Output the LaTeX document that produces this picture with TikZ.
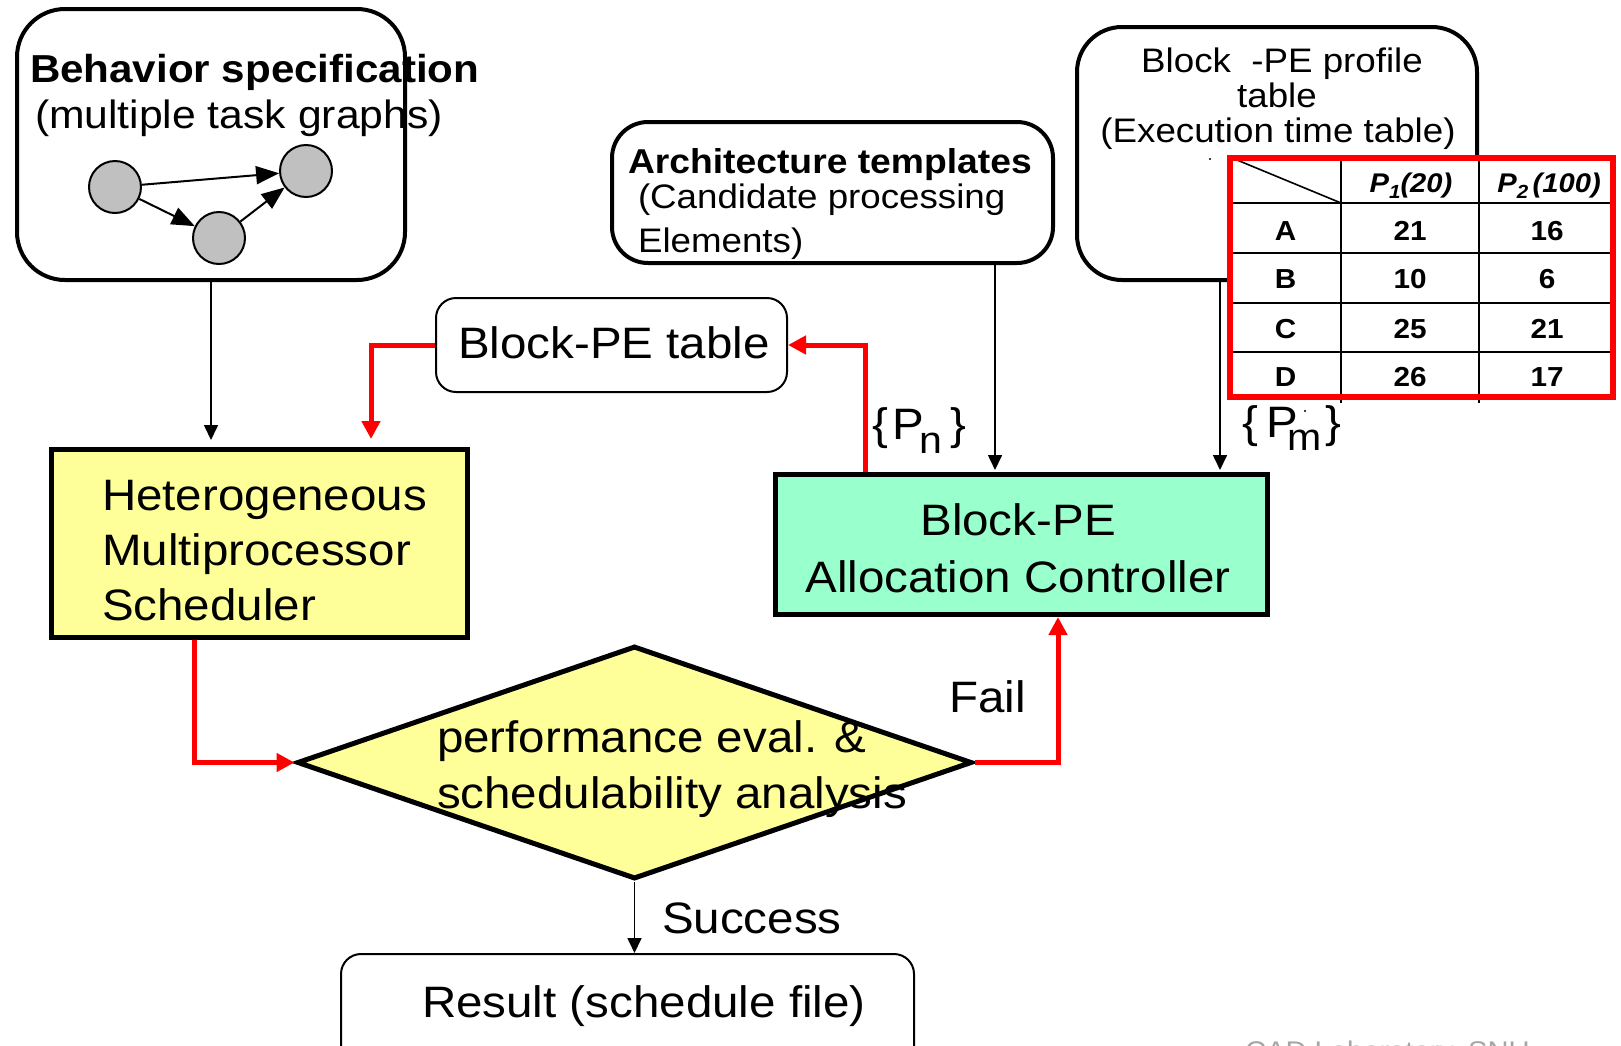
\documentclass[tikz,border=0pt]{standalone}
\usepackage{fontspec}
\setmainfont[FakeStretch=1.08]{Liberation Sans}
\usetikzlibrary{arrows.meta,shapes.geometric}

\definecolor{paleyellow}{HTML}{FFFF99}
\definecolor{mint}{HTML}{99FFCC}
\definecolor{nodegray}{HTML}{C0C0C0}
\definecolor{footgray}{HTML}{A6A6A6}
\newcommand{\fsz}[1]{\fontsize{#1pt}{#1pt}\selectfont}

\begin{document}
\begin{tikzpicture}[
  x=1pt, y=-1pt,
  font=\fsz{44},
  lbl/.style={inner sep=0pt, outer sep=0pt, anchor=base west},
  lblc/.style={inner sep=0pt, outer sep=0pt, anchor=base},
  roundbox/.style={draw, line width=4pt, inner sep=0pt},
  thinbox/.style={draw, line width=2pt, rounded corners=20pt, inner sep=0pt},
  procbox/.style={draw, line width=5pt, inner sep=0pt},
  gnode/.style={circle, draw, line width=2pt, fill=nodegray, minimum size=52pt, inner sep=0pt},
  garrow/.style={line width=2pt, -{Triangle[length=23pt,width=18pt]}},
  blackarrow/.style={line width=1.6pt, -{Triangle[length=15pt,width=14pt]}},
  redarrow/.style={draw=red, line width=5pt, -{Triangle[length=18pt,width=18pt]}}
]
% page frame
\clip (0,0) rectangle (1621,1045);
\fill[white] (0,0) rectangle (1621,1045);

% ---------- input boxes ----------
\node[roundbox, rounded corners=48pt, minimum width=388pt, minimum height=271pt] (beh) at (211,144.5) {};
\node[lbl, font=\fsz{39}\bfseries] (behT1) at (30,82) {Behavior specification};
\node[lbl, font=\fsz{39.5}] (behT2) at (35,128) {(multiple task graphs)};

\node[gnode] (g1) at (115,187) {};
\node[gnode] (g2) at (219,238) {};
\node[gnode] (g3) at (306,171) {};
\draw[garrow] (g1) -- (g3);
\draw[garrow] (g1) -- (g2);
\draw[garrow] (g2) -- (g3);

\node[roundbox, rounded corners=36pt, minimum width=441pt, minimum height=141pt] (arch) at (832.5,192.5) {};
\node[lbl, font=\fsz{34.5}\bfseries] (archT1) at (628,173) {Architecture templates};
\node[lbl, font=\fsz{34}] (archT2) at (638,208) {(Candidate processing};
\node[lbl, font=\fsz{34}] (archT3) at (638,252) {Elements)};

\node[roundbox, rounded corners=45pt, minimum width=400pt, minimum height=253pt] (prof) at (1277,153.5) {};
\node[lblc, font=\fsz{34}] (profT1) at (1282,72) {Block\ \ -PE profile};
\node[lblc, font=\fsz{34}] (profT2) at (1277,107) {table};
\node[lblc, font=\fsz{34}] (profT3) at (1278,142) {(Execution time table)};
\fill (1210,159) circle (1.2pt);

% ---------- execution time table ----------
\fill[white] (1230,158) rectangle (1613,397);
\draw[line width=2pt] (1341,158) -- (1341,403);
\draw[line width=2pt] (1479,158) -- (1479,403);
\foreach \yy in {203,253,303,352} \draw[line width=2pt] (1230,\yy) -- (1613,\yy);
\draw[line width=1.6pt] (1237,160) -- (1341,203);
\draw[red, line width=6pt] (1230,158) rectangle (1613,397);

\begin{scope}[font=\fsz{27}\bfseries\itshape]
\node[lblc] (hP1) at (1411,192) {P\raisebox{-6pt}{\fsz{19}1}(20)};
\node[lblc] (hP2) at (1549,192) {P\raisebox{-6pt}{\fsz{19}2}\,(100)};
\end{scope}
\begin{scope}[font=\fsz{27.5}\bfseries]
\node[lblc] (rA) at (1285.5,240) {A};
\node[lblc] (rA1) at (1410,240) {21};
\node[lblc] (rA2) at (1547,240) {16};
\node[lblc] (rB) at (1285.5,288) {B};
\node[lblc] (rB1) at (1410,288) {10};
\node[lblc] (rB2) at (1547,288) {6};
\node[lblc] (rC) at (1285.5,338) {C};
\node[lblc] (rC1) at (1410,338) {25};
\node[lblc] (rC2) at (1547,338) {21};
\node[lblc] (rD) at (1285.5,386) {D};
\node[lblc] (rD1) at (1410,386) {26};
\node[lblc] (rD2) at (1547,386) {17};
\end{scope}

% ---------- processing blocks ----------
\node[thinbox, minimum width=351pt, minimum height=94pt] (bpe) at (611.5,345) {};
\node[lbl] (bpeT) at (458,358) {Block-PE table};

\node[procbox, fill=paleyellow, minimum width=416pt, minimum height=188pt] (sched) at (259.5,543.5) {};
\node[lbl] (schedT1) at (102,510) {Heterogeneous};
\node[lbl] (schedT2) at (102,565) {Multiprocessor};
\node[lbl] (schedT3) at (102,620) {Scheduler};

\node[procbox, fill=mint, minimum width=492pt, minimum height=140pt] (ctrl) at (1021.5,544.5) {};
\node[lblc] (ctrlT1) at (1018,535) {Block-PE};
\node[lblc] (ctrlT2) at (1018,592) {Allocation Controller};

\node[diamond, draw, line width=5pt, fill=paleyellow, inner sep=0pt,
      minimum width=675pt, minimum height=233pt] (dia) at (634.5,762.5) {};
\node[lbl] (diaT1) at (437,752) {performance eval. \&};
\node[lbl] (diaT2) at (437,808) {schedulability analysis};

\node[thinbox, minimum width=573pt, minimum height=131pt] (res) at (627.5,1019.5) {};
\node[lbl] (resT) at (422,1017) {Result (schedule file)};

% ---------- connectors ----------
\draw[blackarrow, shorten >=7pt] (beh.south) -- (beh.south |- sched.north);
\draw[blackarrow, shorten >=2pt] ([xshift=162.5pt]arch.south) -- ([xshift=162.5pt]arch.south |- ctrl.north);
\draw[blackarrow, shorten >=2pt] ([xshift=-57pt]prof.south) -- ([xshift=-57pt]prof.south |- ctrl.north);
\draw[redarrow, shorten >=8pt] (bpe.west) -| ([xshift=111.5pt]sched.north);
\draw[redarrow] ([xshift=92pt]ctrl.north west) |- (bpe.east);
\draw[redarrow] ([xshift=145pt]sched.south west) |- (dia.west);
\draw[redarrow] (dia.east) -| ([xshift=285pt]ctrl.south west);
\draw[blackarrow] (dia.south) -- (dia.south |- res.north);

% ---------- connector labels ----------
\node[lbl] (pn) at (872,439) {\{\kern5pt P\kern-5pt\raisebox{-14pt}{\fsz{38}n}\kern8pt\}};
\node[lbl] (pm) at (1242,437) {\{\kern9pt P\kern-11pt\raisebox{-13pt}{\fsz{38}m}\kern4pt\}};
\fill (1305,411) circle (1.2pt);
\node[lbl] (fail) at (949,712) {Fail};
\node[lbl] (succ) at (662,933) {Success};

\node[lbl, text=footgray, font=\fsz{27}] (foot) at (1245,1060) {CAD Laboratory, SNU};
\end{tikzpicture}
\end{document}
